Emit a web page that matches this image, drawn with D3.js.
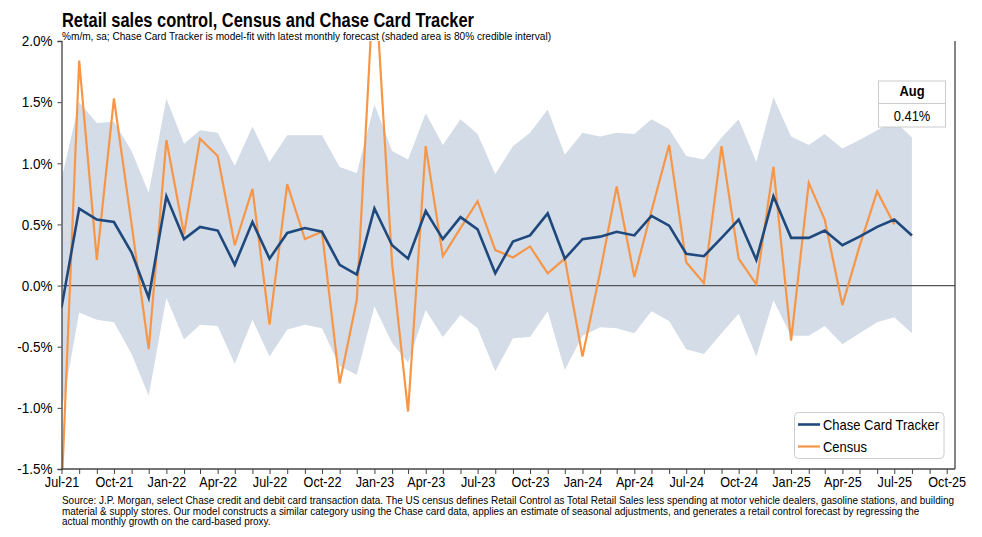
<!DOCTYPE html>
<html>
<head>
<meta charset="utf-8">
<script src="https://cdn.jsdelivr.net/npm/d3@7"></script>
<style>
  html, body { margin: 0; padding: 0; background: #fff; }
  svg { display: block; }
  text { font-family: "Liberation Sans", Arial, sans-serif; fill: #000; }
</style>
</head>
<body>
<svg id="chart" width="982" height="537"></svg>
<script>
// ---- Data ----
const months = [
  "2021-07","2021-08","2021-09","2021-10","2021-11","2021-12",
  "2022-01","2022-02","2022-03","2022-04","2022-05","2022-06",
  "2022-07","2022-08","2022-09","2022-10","2022-11","2022-12",
  "2023-01","2023-02","2023-03","2023-04","2023-05","2023-06",
  "2023-07","2023-08","2023-09","2023-10","2023-11","2023-12",
  "2024-01","2024-02","2024-03","2024-04","2024-05","2024-06",
  "2024-07","2024-08","2024-09","2024-10","2024-11","2024-12",
  "2025-01","2025-02","2025-03","2025-04","2025-05","2025-06",
  "2025-07","2025-08"
];
const chaseTracker = [
  -0.18, 0.63, 0.54, 0.52, 0.27, -0.10,
  0.73, 0.38, 0.48, 0.45, 0.17, 0.52,
  0.22, 0.43, 0.47, 0.44, 0.17, 0.09,
  0.63, 0.33, 0.22, 0.61, 0.38, 0.56,
  0.46, 0.10, 0.36, 0.41, 0.59, 0.22,
  0.38, 0.40, 0.44, 0.41, 0.57, 0.49,
  0.26, 0.24, 0.39, 0.54, 0.21, 0.73,
  0.39, 0.39, 0.45, 0.33, 0.40, 0.48,
  0.54, 0.41
];
const census = [
  -1.70, 1.84, 0.21, 1.53, 0.50, -0.52,
  1.19, 0.42, 1.20, 1.06, 0.33, 0.79,
  -0.32, 0.83, 0.38, 0.44, -0.80, -0.12,
  2.60, 0.18, -1.03, 1.14, 0.24, 0.47,
  0.69, 0.29, 0.23, 0.32, 0.10, 0.22,
  -0.58, 0.11, 0.81, 0.07, 0.61, 1.15,
  0.19, 0.02, 1.14, 0.22, 0.01, 0.97,
  -0.45, 0.84, 0.54, -0.16, 0.32, 0.77,
  0.50
];
const bandUpper = [
  0.87, 1.50, 1.33, 1.34, 1.10, 0.76,
  1.53, 1.16, 1.27, 1.25, 0.98, 1.30,
  1.01, 1.23, 1.23, 1.23, 0.97, 0.92,
  1.48, 1.10, 1.03, 1.41, 1.15, 1.36,
  1.24, 0.91, 1.14, 1.25, 1.44, 1.07,
  1.25, 1.22, 1.25, 1.24, 1.36, 1.28,
  1.06, 1.03, 1.21, 1.36, 1.01, 1.54,
  1.22, 1.15, 1.24, 1.12, 1.19, 1.27,
  1.35, 1.21
];
const bandLower = [
  -1.03, -0.22, -0.28, -0.30, -0.56, -0.90,
  -0.10, -0.44, -0.32, -0.33, -0.64, -0.28,
  -0.58, -0.36, -0.32, -0.35, -0.66, -0.73,
  -0.17, -0.47, -0.63, -0.20, -0.42, -0.24,
  -0.35, -0.70, -0.43, -0.42, -0.21, -0.69,
  -0.41, -0.34, -0.35, -0.39, -0.21, -0.29,
  -0.52, -0.56, -0.39, -0.23, -0.58, -0.12,
  -0.41, -0.41, -0.33, -0.48, -0.39, -0.30,
  -0.26, -0.39
];
const yTicks = [2.0, 1.5, 1.0, 0.5, 0.0, -0.5, -1.0, -1.5];
const xLabelMonths = [
  "2021-07","2021-10","2022-01","2022-04","2022-07","2022-10",
  "2023-01","2023-04","2023-07","2023-10","2024-01","2024-04",
  "2024-07","2024-10","2025-01","2025-04","2025-07","2025-10"
];
const titleText = "Retail sales control, Census and Chase Card Tracker";
const subtitleText = "%m/m, sa; Chase Card Tracker is model-fit with latest monthly forecast (shaded area is 80% credible interval)";
const footnoteLines = [
  "Source: J.P. Morgan, select Chase credit and debit card transaction data. The US census defines Retail Control as Total Retail Sales less spending at motor vehicle dealers, gasoline stations, and building",
  "material & supply stores. Our model constructs a similar category using the Chase card data, applies an estimate of seasonal adjustments, and generates a retail control forecast by regressing the",
  "actual monthly growth on the card-based proxy."
];
const legendLabels = ["Chase Card Tracker", "Census"];
const calloutLabel = "Aug";
const calloutValue = "0.41%";

// ---- Layout ----
const parse = d3.timeParse("%Y-%m");
const dates = months.map(parse);
const PL = 61.5, PR = 955, PT = 41, PB = 469;
const COL_BLUE = "#1f497d", COL_ORANGE = "#f79646", COL_BAND = "#d3dce7";

// condense text horizontally (narrow typeface look)
function narrow(sel, f) {
  sel.each(function () {
    const w = this.getComputedTextLength();
    if (w > 0) d3.select(this).attr("textLength", w * f).attr("lengthAdjust", "spacingAndGlyphs");
  });
}

const svg = d3.select("#chart");
const x = d3.scaleTime().domain([parse("2021-07"), parse("2025-10")]).range([PL, 946.7]);
const y = d3.scaleLinear().domain([-1.5, 2.0]).range([PB, PT]);

svg.append("defs").append("clipPath").attr("id", "plotclip")
  .append("rect").attr("x", PL).attr("y", PT).attr("width", PR - PL).attr("height", PB - PT);

const plot = svg.append("g").attr("clip-path", "url(#plotclip)");

// band
const bandData = dates.map((d, i) => ({ d, lo: bandLower[i], hi: bandUpper[i] }));
plot.append("path").datum(bandData)
  .attr("fill", COL_BAND)
  .attr("d", d3.area().x(p => x(p.d)).y0(p => y(p.lo)).y1(p => y(p.hi)));

// zero line
plot.append("line").attr("x1", PL).attr("x2", PR).attr("y1", y(0)).attr("y2", y(0))
  .attr("stroke", "#555").attr("stroke-width", 1.2);

// census line
const censusData = census.map((v, i) => ({ d: dates[i], v }));
plot.append("path").datum(censusData)
  .attr("fill", "none").attr("stroke", COL_ORANGE).attr("stroke-width", 2.2)
  .attr("stroke-linejoin", "miter")
  .attr("d", d3.line().x(p => x(p.d)).y(p => y(p.v)));

// tracker line
const trackerData = chaseTracker.map((v, i) => ({ d: dates[i], v }));
plot.append("path").datum(trackerData)
  .attr("fill", "none").attr("stroke", COL_BLUE).attr("stroke-width", 2.6)
  .attr("stroke-linejoin", "miter")
  .attr("d", d3.line().x(p => x(p.d)).y(p => y(p.v)));

// y axis
const yAxis = svg.append("g").attr("transform", `translate(${PL},0)`)
  .call(d3.axisLeft(y).tickValues(yTicks).tickSize(4).tickPadding(5).tickFormat(d => d.toFixed(1) + "%"));
yAxis.select(".domain").attr("stroke", "#444").attr("stroke-width", 1.3);
yAxis.selectAll(".tick line").attr("stroke", "#444");
yAxis.selectAll(".tick text").attr("font-size", 15).attr("fill", "#000")
  .style("font-family", "'Liberation Sans', Arial, sans-serif");
narrow(yAxis.selectAll(".tick text"), 0.9);

// x axis
const allMonths = d3.timeMonth.range(parse("2021-07"), d3.timeMonth.offset(parse("2025-10"), 1));
const labelSet = new Set(xLabelMonths);
const xAxis = svg.append("g").attr("transform", `translate(0,${PB})`)
  .call(d3.axisBottom(x).tickValues(allMonths).tickSize(5).tickPadding(3)
    .tickFormat(d => labelSet.has(d3.timeFormat("%Y-%m")(d)) ? d3.timeFormat("%b-%y")(d) : ""));
xAxis.select(".domain").remove();
xAxis.append("line").attr("x1", PL).attr("x2", PR).attr("y1", 0).attr("y2", 0)
  .attr("stroke", "#444").attr("stroke-width", 1.3);
xAxis.selectAll(".tick line").attr("stroke", "#444");
xAxis.selectAll(".tick text").attr("font-size", 14.5).attr("fill", "#000")
  .style("font-family", "'Liberation Sans', Arial, sans-serif");
narrow(xAxis.selectAll(".tick text"), 0.87);

// right frame line
svg.append("line").attr("x1", PR).attr("x2", PR).attr("y1", PT).attr("y2", PB)
  .attr("stroke", "#444").attr("stroke-width", 1.3);

// title & subtitle
svg.append("text").attr("x", 62).attr("y", 26.5).attr("font-size", 19.5).attr("font-weight", "bold")
  .attr("textLength", 412).attr("lengthAdjust", "spacingAndGlyphs")
  .text(titleText);
svg.append("text").attr("x", 62).attr("y", 39.5).attr("font-size", 10.3)
  .attr("textLength", 489).attr("lengthAdjust", "spacingAndGlyphs")
  .text(subtitleText);

// callout box
const cb = svg.append("g");
cb.append("rect").attr("x", 878.5).attr("y", 81).attr("width", 67).attr("height", 46)
  .attr("fill", "#fff").attr("stroke", "#ccc").attr("stroke-width", 1);
cb.append("line").attr("x1", 878.5).attr("x2", 945.5).attr("y1", 103.5).attr("y2", 103.5)
  .attr("stroke", "#ccc");
cb.append("text").attr("x", 912).attr("y", 96).attr("text-anchor", "middle")
  .attr("font-size", 15).attr("font-weight", "bold").text(calloutLabel);
cb.append("text").attr("x", 912).attr("y", 120.5).attr("text-anchor", "middle")
  .attr("font-size", 15).text(calloutValue);
narrow(cb.selectAll("text"), 0.86);

// legend
const lg = svg.append("g");
lg.append("rect").attr("x", 794.5).attr("y", 412.5).attr("width", 149.5).attr("height", 46)
  .attr("rx", 4).attr("fill", "#fff").attr("stroke", "#ccc");
[COL_BLUE, COL_ORANGE].forEach((c, i) => {
  const yy = 424.5 + i * 22;
  lg.append("line").attr("x1", 798).attr("x2", 820).attr("y1", yy).attr("y2", yy)
    .attr("stroke", c).attr("stroke-width", i === 0 ? 2.6 : 2.2);
  lg.append("text").attr("x", 823).attr("y", yy + 5.3).attr("font-size", 15).text(legendLabels[i]);
});
narrow(lg.selectAll("text"), 0.865);

// footnote
const fn = svg.append("g");
footnoteLines.forEach((t, i) => {
  fn.append("text").attr("x", 62).attr("y", 504 + i * 10.6).attr("font-size", 10.6).text(t);
});
const firstW = fn.select("text").node().getComputedTextLength();
narrow(fn.selectAll("text"), 892 / firstW);
</script>
</body>
</html>
